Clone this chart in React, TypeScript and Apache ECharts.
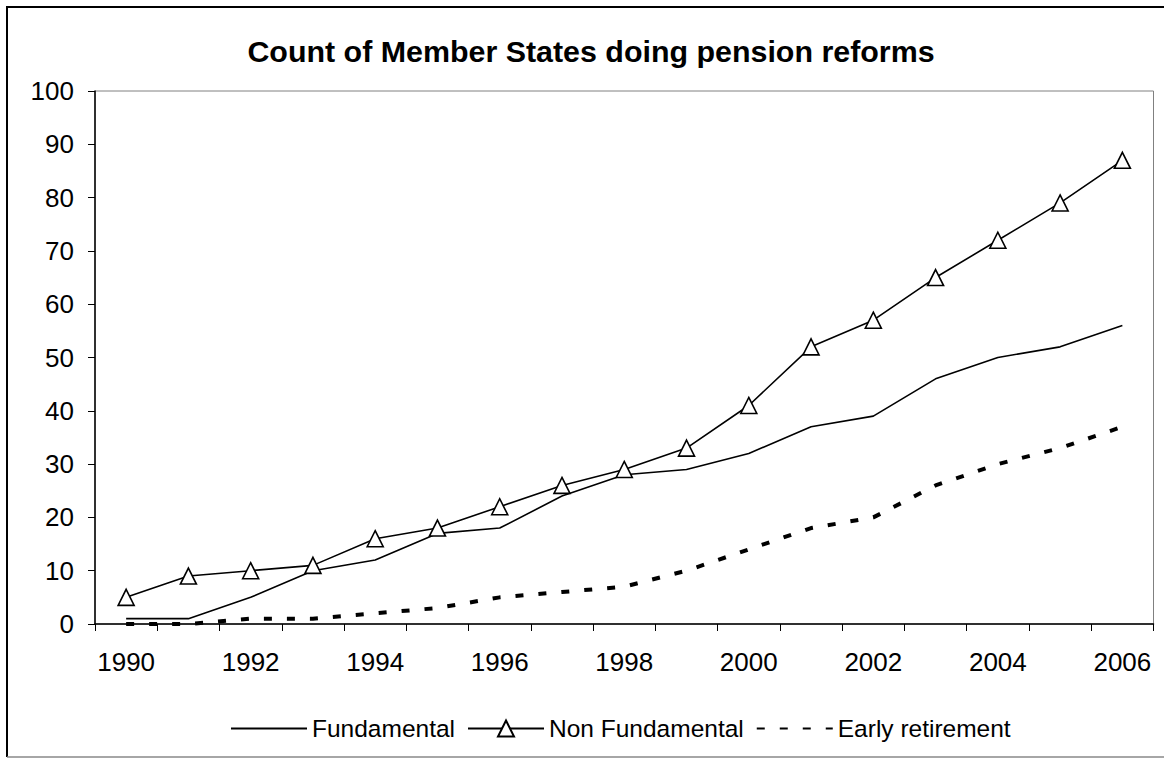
import React, { useEffect, useRef } from "react";
import * as echarts from "echarts";

const years = ["1990","1991","1992","1993","1994","1995","1996","1997","1998","1999","2000","2001","2002","2003","2004","2005","2006"];
const fundamental = [1, 1, 5, 10, 12, 17, 18, 24, 28, 29, 32, 37, 39, 46, 50, 52, 56];
const nonFundamental = [5, 9, 10, 11, 16, 18, 22, 26, 29, 33, 41, 52, 57, 65, 72, 79, 87];
const earlyRetirement = [0, 0, 1, 1, 2, 3, 5, 6, 7, 10, 14, 18, 20, 26, 30, 33, 37];
const titleText = "Count of Member States doing pension reforms";
const seriesNames = ["Fundamental", "Non Fundamental", "Early retirement"];

const FONT = "'Liberation Sans', Arial, sans-serif";

export default function App() {
  const ref = useRef<HTMLDivElement>(null);
  useEffect(() => {
    if (!ref.current) return;
    const chart = echarts.init(ref.current, undefined, { renderer: "svg" });
    chart.setOption({
      animation: false,
      backgroundColor: "#ffffff",
      textStyle: { fontFamily: FONT },
      graphic: [
        { type: "line", shape: { x1: 7, y1: 7, x2: 1170, y2: 7 }, style: { stroke: "#000", lineWidth: 2 } },
        { type: "line", shape: { x1: 7, y1: 6, x2: 7, y2: 757 }, style: { stroke: "#000", lineWidth: 2 } },
        { type: "line", shape: { x1: 7, y1: 757, x2: 1170, y2: 757 }, style: { stroke: "#888", lineWidth: 1.5 } },
        {
          type: "text",
          x: 591,
          y: 51,
          style: {
            text: titleText,
            font: `bold 30.4px ${FONT}`,
            fill: "#000",
            textAlign: "center",
            textVerticalAlign: "middle",
          },
        },
      ],
      grid: {
        left: 95,
        right: 10.5,
        top: 91,
        bottom: 134,
        show: true,
        borderColor: "#808080",
        borderWidth: 1,
        backgroundColor: "transparent",
      },
      legend: {
        left: 225,
        top: 711,
        itemWidth: 76,
        itemHeight: 20,
        itemGap: 12,
        textStyle: { fontSize: 24.5, color: "#000", fontFamily: FONT },
        data: [
          { name: seriesNames[0], itemStyle: { opacity: 0 } },
          { name: seriesNames[1] },
          { name: seriesNames[2], itemStyle: { opacity: 0 } },
        ],
      },
      xAxis: {
        type: "category",
        data: years,
        boundaryGap: true,
        axisLine: { lineStyle: { color: "#000", width: 1.5 } },
        axisTick: { show: true, interval: 0, length: 7, lineStyle: { color: "#000", width: 1 } },
        axisLabel: { interval: 1, fontSize: 26, color: "#000", margin: 25, fontFamily: FONT },
        splitLine: { show: false },
      },
      yAxis: {
        type: "value",
        min: 0,
        max: 100,
        interval: 10,
        axisLine: { show: true, lineStyle: { color: "#000", width: 1.5 } },
        axisTick: { show: true, length: 7, lineStyle: { color: "#000", width: 1 } },
        axisLabel: { fontSize: 26, color: "#000", margin: 21, fontFamily: FONT },
        splitLine: { show: false },
      },
      series: [
        {
          name: seriesNames[0],
          type: "line",
          data: fundamental,
          symbol: "none",
          lineStyle: { color: "#000", width: 1.6 },
          itemStyle: { color: "#000" },
        },
        {
          name: seriesNames[1],
          type: "line",
          data: nonFundamental,
          symbol: "triangle",
          symbolSize: 16,
          lineStyle: { color: "#000", width: 1.6 },
          itemStyle: { color: "#fff", borderColor: "#000", borderWidth: 1.6 },
          z: 3,
        },
        {
          name: seriesNames[2],
          type: "line",
          data: earlyRetirement,
          symbol: "none",
          lineStyle: { color: "#000", width: 4, type: [8, 15] },
          itemStyle: { color: "#000" },
        },
      ],
    });
    return () => chart.dispose();
  }, []);
  return (
    <div
      ref={ref}
      style={{ position: "fixed", left: 0, top: 0, width: 1164, height: 758 }}
    />
  );
}
